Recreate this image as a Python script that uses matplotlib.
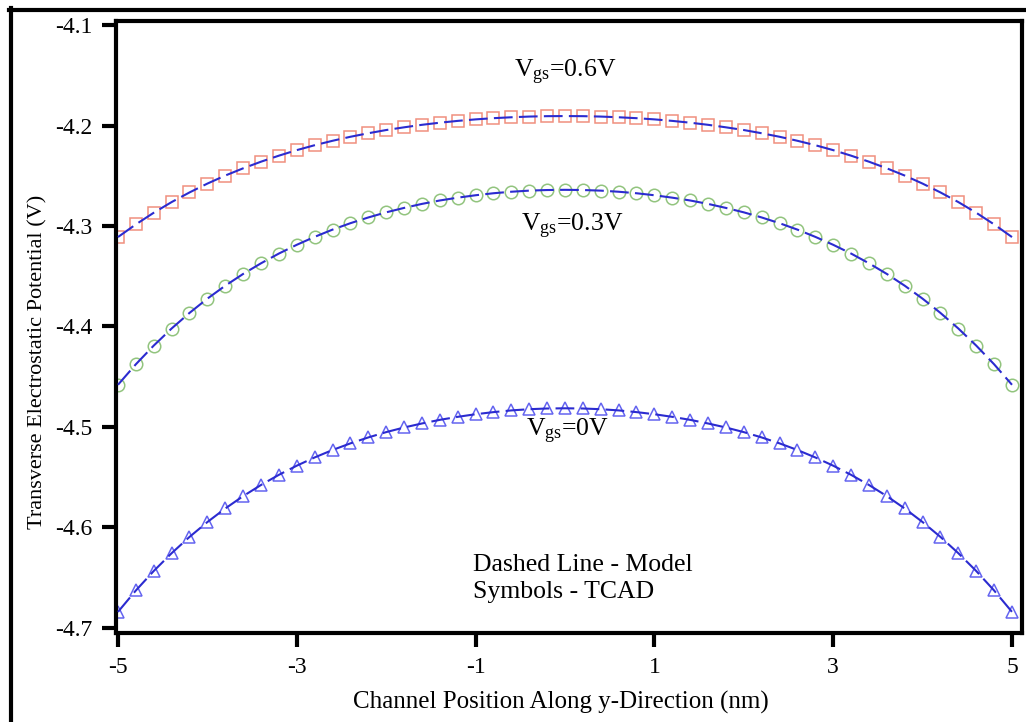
import matplotlib
matplotlib.use("Agg")
import matplotlib.pyplot as plt
from matplotlib.lines import Line2D

# Channel position (nm), TCAD sample points every 0.2 nm
position = [-5.0, -4.8, -4.6, -4.4, -4.2, -4.0, -3.8, -3.6, -3.4, -3.2, -3.0,
            -2.8, -2.6, -2.4, -2.2, -2.0, -1.8, -1.6, -1.4, -1.2, -1.0,
            -0.8, -0.6, -0.4, -0.2, 0.0, 0.2, 0.4, 0.6, 0.8, 1.0,
            1.2, 1.4, 1.6, 1.8, 2.0, 2.2, 2.4, 2.6, 2.8, 3.0,
            3.2, 3.4, 3.6, 3.8, 4.0, 4.2, 4.4, 4.6, 4.8, 5.0]

# Transverse electrostatic potential (V) for each gate bias
half_06 = [-4.3110, -4.2984, -4.2868, -4.2762, -4.2666, -4.2578, -4.2498, -4.2426,
           -4.2360, -4.2300, -4.2245, -4.2196, -4.2152, -4.2112, -4.2077, -4.2045,
           -4.2018, -4.1993, -4.1972, -4.1954, -4.1939, -4.1927, -4.1918, -4.1911,
           -4.1907]
half_03 = [-4.4580, -4.4376, -4.4190, -4.4020, -4.3865, -4.3723, -4.3594, -4.3477,
           -4.3371, -4.3274, -4.3187, -4.3108, -4.3036, -4.2972, -4.2915, -4.2864,
           -4.2820, -4.2780, -4.2746, -4.2718, -4.2694, -4.2674, -4.2659, -4.2648,
           -4.2642]
half_00 = [-4.6840, -4.6627, -4.6433, -4.6256, -4.6094, -4.5946, -4.5811, -4.5688,
           -4.5577, -4.5476, -4.5385, -4.5303, -4.5229, -4.5163, -4.5104, -4.5051,
           -4.5005, -4.4965, -4.4929, -4.4899, -4.4873, -4.4852, -4.4835, -4.4823,
           -4.4816]
potential_06 = half_06 + [-4.1906] + half_06[::-1]
potential_03 = half_03 + [-4.2640] + half_03[::-1]
potential_00 = half_00 + [-4.4814] + half_00[::-1]

x_ticks = [-5, -3, -1, 1, 3, 5]
y_ticks = [-4.7, -4.6, -4.5, -4.4, -4.3, -4.2, -4.1]

plt.rcParams["font.family"] = ["Liberation Serif", "DejaVu Serif"]
plt.rcParams["mathtext.fontset"] = "custom"
plt.rcParams["mathtext.rm"] = "Liberation Serif"
plt.rcParams["mathtext.it"] = "Liberation Serif:italic"

W, H = 1026, 722
fig = plt.figure(figsize=(W / 100, H / 100), dpi=100)
ax_l, ax_r, ax_t, ax_b = 116, 1022, 21, 633
ax = fig.add_axes([ax_l / W, 1 - ax_b / H, (ax_r - ax_l) / W, (ax_b - ax_t) / H])

model_color = "#2b2bd0"
series = [
    (potential_06, "s", "#f0907e"),
    (potential_03, "o", "#92c47e"),
    (potential_00, "^", "#6464f0"),
]
for values, marker, color in series:
    ax.plot(position, values, linestyle="none", marker=marker, markersize=9,
            markerfacecolor="none", markeredgecolor=color, markeredgewidth=1.1,
            zorder=2)
    ax.plot(position, values, color=model_color, linewidth=1.5,
            linestyle=(0, (9, 3)), zorder=3)

ax.set_xlim(-5.022, 5.112)
ax.set_ylim(-4.705, -4.096)
ax.set_xticks(x_ticks)
ax.set_xticklabels([str(t) for t in x_ticks])
ax.set_yticks(y_ticks)
ax.set_yticklabels([f"{t:.1f}" for t in y_ticks])

for s in ax.spines.values():
    s.set_linewidth(3)
ax.tick_params(direction="out", length=10, width=3, labelsize=17)
ax.tick_params(axis="x", pad=7)
ax.tick_params(axis="y", pad=7)

ax.set_xlabel("Channel Position Along y-Direction (nm)", fontsize=18)
ax.set_ylabel("Transverse Electrostatic Potential (V)", fontsize=16)
aw, ah = ax_r - ax_l, ax_b - ax_t
ax.xaxis.set_label_coords((561 - ax_l) / aw, (ax_b - 691) / ah)
ax.yaxis.set_label_coords((47 - ax_l) / aw, (ax_b - 362) / ah)

ax.text(0.0, -4.147, r"V$_{\mathrm{gs}}$=0.6V", fontsize=18.5, ha="center", va="center")
ax.text(0.08, -4.300, r"V$_{\mathrm{gs}}$=0.3V", fontsize=18.5, ha="center", va="center")
ax.text(0.03, -4.504, r"V$_{\mathrm{gs}}$=0V", fontsize=18.5, ha="center", va="center")
ax.text(-1.03, -4.637, "Dashed Line - Model", fontsize=18.5, ha="left", va="center")
ax.text(-1.03, -4.664, "Symbols - TCAD", fontsize=18.5, ha="left", va="center")

# Frame lines along the left and top edges of the figure
fig.add_artist(Line2D([11 / W, 11 / W], [0, 1 - 8 / H], transform=fig.transFigure,
                      color="black", linewidth=3))
fig.add_artist(Line2D([9 / W, 1], [1 - 10 / H, 1 - 10 / H], transform=fig.transFigure,
                      color="black", linewidth=3))

fig.savefig("out.png", dpi=100)
